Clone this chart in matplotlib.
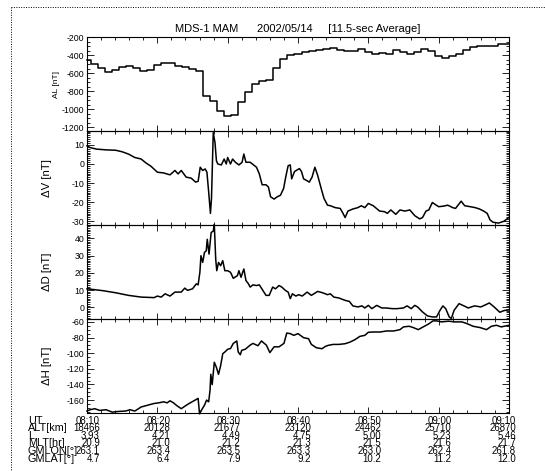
import matplotlib
matplotlib.use("Agg")
import matplotlib.pyplot as plt
import matplotlib.ticker as mticker
from matplotlib.lines import Line2D

plt.rcParams['font.family'] = ['Liberation Sans', 'DejaVu Sans']
plt.rcParams['axes.unicode_minus'] = False

# ---- data (minutes after 08:10 UT) ----
al_t = list(range(61))
al = [-446, -500, -543, -579, -561, -525, -514, -543, -571, -561,
      -507, -489, -489, -518, -525, -550, -571, -846, -907, -1018,
      -1068, -1062, -918, -804, -721, -686, -668, -536, -436, -400,
      -382, -364, -346, -336, -329, -321, -336, -350, -354, -332,
      -364, -382, -375, -389, -339, -364, -389, -357, -332, -354,
      -407, -425, -411, -382, -339, -311, -293, -300, -295, -275, -275]

dv_t = [0, 0.45, 1.36, 2.73, 4.09, 5.0, 5.9, 6.8, 7.7, 8.4, 9.1, 10, 10.9, 11.8,
        12.5, 12.95, 13.4, 14.1, 14.8, 15.45, 15.8, 16.1, 16.45, 16.8, 17.05,
        17.3, 17.55, 17.7, 17.95, 18.2, 18.4, 18.6, 19.1, 19.5, 19.8, 20, 20.4,
        20.7, 21.1, 21.6, 22.05, 22.3, 22.6, 23.2, 24.1, 24.5, 24.9, 25.45,
        25.8, 26.1, 26.6, 27.05, 27.5, 27.95, 28.3, 28.6, 28.9, 29.1, 29.5,
        30.2, 30.5, 30.8, 31.2, 31.6, 32.0, 32.4, 32.8, 33.3, 33.7, 34.2, 34.6,
        35.3, 36.0, 36.4, 36.7, 37.1, 37.8, 38.5, 39.0, 39.5, 40.0, 40.7, 41.6,
        42.3, 42.7, 43.2, 43.9, 44.5, 45.2, 45.9, 46.6, 47.3, 47.7, 48.2, 48.6,
        49.1, 49.5, 50.0, 50.7, 51.3, 52.0, 52.4, 53.2, 53.7, 54.5, 55.2, 55.8,
        56.4, 56.9, 57.3, 57.7, 58.5, 59.3, 60]
dv = [9.5, 8.6, 7.8, 7.4, 7.2, 6.4, 5.2, 3.4, 2.6, 0.5, -1.2, -4.3, -4.7, -5.7,
      -3.4, -5.2, -3.4, -6.9, -7.4, -9.5, -9.1, -1.7, -3.4, -2.6, -4.3,
      -14.7, -25.9, -18.1, 16.4, 11.2, 1.7, 0, -0.5, 2.6, 0, 3.4, 0,
      2.6, 0.9, -0.5, 0.9, 5.2, 0.9, 0.9, -1.7, -5.2, -10.9, -10.9,
      -12.1, -17.2, -18.4, -17.2, -16.4, -12.9, -6.0, -0.9, -0.5, -7.8, -4.0,
      -2.4, -4.0, -7.8, -8.6, -9.5, -6.9, -1.7, -6.0, -12.9, -18.1, -21.6, -21.9,
      -22.9, -23.3, -25.9, -28.1, -24.7, -23.6, -22.9, -21.9, -22.9, -20.7, -21.9, -24.7,
      -25.0, -25.9, -24.1, -26.4, -24.1, -24.7, -24.1, -27.1, -28.8, -28.1, -24.7, -24.1,
      -20.2, -21.2, -22.4, -22.1, -21.6, -22.9, -23.3, -19.5, -21.9, -22.4, -22.9, -23.6,
      -24.7, -25.9, -29.3, -30.5, -31.0, -30.0, -28.0]

dd_t = [0, 0.9, 2.3, 4.1, 5.9, 7.7, 9.55, 10, 10.55, 11.1, 11.8, 12.5, 13.4, 13.9,
        14.3, 15, 15.55, 15.8, 16.05, 16.2, 16.45, 16.7, 16.95, 17.1, 17.35,
        17.65, 17.95, 18.1, 18.3, 18.45, 18.7, 19, 19.3, 19.6, 20, 20.4, 20.8,
        21.4, 21.6, 21.9, 22.3, 22.6, 22.95, 23.2, 23.6, 24.1, 24.5, 25, 25.45,
        25.9, 26.4, 26.8, 27.3, 27.7, 28.2, 28.6, 28.9, 29.2, 29.7, 30.1, 30.6,
        31.3, 31.9, 32.8, 33.5, 34.2, 34.6, 35.1, 35.8, 36.7, 37.3, 37.8, 38.5,
        39.1, 39.5, 40, 40.5, 41.2, 41.9, 42.5, 43.4, 44.1, 45.0, 45.5, 46.1,
        46.6, 47.0, 47.7, 48.4, 49.1, 49.7, 50.2, 50.6, 51.0, 51.5, 51.8, 52.2,
        52.9, 53.6, 54.2, 55.1, 56.0, 56.7, 57.2, 57.8, 58.7, 59.3, 60]
dd = [10.7, 10.3, 9.6, 8.4, 6.9, 5.9, 5.6, 6.5, 5.9, 7.8, 6.5, 8.8, 8.8, 11.1,
      9.8, 10.7, 13.6, 13.0, 20.3, 29.9, 26.0, 31.8, 32.7, 39.4, 30.8,
      43.3, 44.2, 48.0, 27.9, 21.2, 26.0, 24.1, 27.0, 21.2, 21.2, 20.3, 16.8,
      18.4, 21.2, 17.4, 22.2, 15.5, 13.6, 11.7, 13.0, 12.6, 13.0, 9.8, 6.9,
      6.9, 11.7, 10.7, 12.6, 11.7, 9.8, 8.8, 5.0, 7.8, 6.5, 7.3, 6.5,
      8.8, 6.9, 9.2, 8.4, 7.3, 7.8, 5.9, 5.4, 4.0, 3.4, 0.8, 0.2,
      0.8, -0.4, 1.1, -0.8, 1.1, -0.4, -0.4, -0.8, -0.8, -0.4, 0.8, -0.8,
      1.1, 0.2, -2.7, -5.0, -5.6, -5.6, -1.7, 0.8, -0.8, -5.6, -6.5, -1.7,
      2.1, 0.8, -0.4, 0.8, 0.2, 1.5, 2.5, 0.5, -2.9, -1.9, -1.5]

dh_t = [0, 0.45, 1.1, 1.8, 2.7, 3.6, 4.5, 5.5, 6.1, 6.8, 7.7, 8.6, 9.5, 10.2, 10.9,
        11.4, 11.8, 12.3, 12.7, 13.4, 13.9, 14.5, 15.2, 15.8, 16.0, 16.4, 16.7,
        17.0, 17.3, 17.5, 17.6, 17.8, 18.1, 18.4, 18.7, 19.0, 19.3, 19.6, 20.0,
        20.4, 20.8, 21.3, 21.5, 21.8, 22.0, 22.5, 23.2, 23.6, 24.3, 24.8, 25.5,
        26.0, 26.6, 27.3, 28.0, 28.4, 28.9, 29.4, 30.0, 30.8, 31.5, 31.9, 32.6,
        33.4, 33.9, 34.3, 35.0, 35.8, 36.7, 37.4, 38.1, 38.8, 39.5, 40.0, 40.7,
        41.7, 42.6, 43.6, 44.5, 45.0, 45.8, 46.4, 47.1, 47.8, 48.5, 49.2, 49.7,
        50.4, 51.4, 52.3, 53.3, 54.0, 54.9, 55.9, 56.8, 57.5, 58.2, 58.9, 60]
dh = [-174, -172.3, -171, -173.2, -172.3, -175.4, -174.5, -174, -172.3, -174,
      -168.8, -166.6, -164.4, -163.5, -162.2, -163.5, -160.9, -163.5, -166.6,
      -171, -167.9, -164.4, -160.9, -157.8, -177.6, -171, -166.6, -160, -162.2,
      -146.8, -127, -140.2, -111.6, -118.2, -127, -116, -100.7, -98.5, -95,
      -94.1, -87.5, -84.4, -98.5, -102, -96.3, -95, -89.7, -87.5, -90.5, -84.4,
      -89.7, -99.3, -91.9, -91.9, -87.5, -74.3, -75, -77.2, -75, -80.2, -81.5,
      -88.8, -93, -94.3, -91.3, -90, -88.8, -88.8, -87.9, -85.8, -82.7, -78.5,
      -77.2, -73.3, -72.9, -72.9, -71.6, -71.6, -69.9, -66.4, -65.6, -67.3,
      -69.9, -66.4, -63, -58.7, -58.7, -60, -59.1, -60, -60, -62.1, -65.6,
      -67.3, -69.9, -65.6, -64.3, -66.4, -64.3]

row_labels = ['UT', 'ALT[km]', 'L', 'MLT[hr]', 'GMLON[°]', 'GMLAT[°]']
ut = ['08:10', '08:20', '08:30', '08:40', '08:50', '09:00', '09:10']
alt = ['18466', '20128', '21677', '23120', '24462', '25710', '26870']
lval = ['3.93', '4.21', '4.49', '4.75', '5.00', '5.23', '5.46']
mlt = ['20.9', '21.0', '21.2', '21.3', '21.5', '21.6', '21.7']
gmlon = ['263.1', '263.4', '263.5', '263.3', '263.0', '262.4', '261.8']
gmlat = ['4.7', '6.4', '7.9', '9.2', '10.2', '11.2', '12.0']
rows = [ut, alt, lval, mlt, gmlon, gmlat]

W, H = 545, 471
fig = plt.figure(figsize=(W / 100, H / 100), dpi=100)


def fx(px):
    return px / W


def fy(py):
    return 1 - py / H


left, right = 87, 509
ph = 94
tops = [37, 131, 225, 319]

panels = [
    (al_t, al, 'AL [nT]', (-1240, -195), 200, 50, 6.0, 60),
    (dv_t, dv, '\u0394V [nT]', (-32.0, 17.3), 10, 1, 8.2, 52),
    (dd_t, dd, '\u0394D [nT]', (-6.8, 47.7), 10, 1, 8.2, 52),
    (dh_t, dh, '\u0394H [nT]', (-176.5, -56.3), 20, 5, 8.2, 52),
]

for i, (t, v, lab, ylim, maj, mnr, lsz, lx) in enumerate(panels):
    ax = fig.add_axes([fx(left), fy(tops[i] + ph), fx(right) - fx(left), ph / H])
    ax.set_facecolor('none')
    ax.set_zorder(10 - i)
    if i == 0:
        ax.plot(t, v, color='k', lw=1.1, drawstyle='steps-mid', clip_on=False)
    else:
        ax.plot(t, v, color='k', lw=1.1, clip_on=False)
    ax.set_xlim(0, 60)
    ax.set_ylim(*ylim)
    ax.xaxis.set_major_locator(mticker.MultipleLocator(10))
    ax.xaxis.set_minor_locator(mticker.MultipleLocator(2))
    ax.yaxis.set_major_locator(mticker.MultipleLocator(maj))
    ax.yaxis.set_minor_locator(mticker.MultipleLocator(mnr))
    ax.tick_params(which='both', direction='in', top=True, right=True,
                   labelbottom=False, labelsize=6.3, pad=2, width=0.6)
    ax.tick_params(axis='x', which='major', length=4.5)
    ax.tick_params(axis='x', which='minor', length=2.2)
    ax.tick_params(axis='y', which='major', length=5)
    ax.tick_params(axis='y', which='minor', length=2.2)
    for s in ax.spines.values():
        s.set_linewidth(0.8)
    ax.set_ylabel(lab, fontsize=lsz)
    ax.yaxis.set_label_coords((lx - left) / (right - left), 0.5)

fig.text(fx(298), fy(29), 'MDS-1 MAM      2002/05/14     [11.5-sec Average]',
         ha='center', va='center', fontsize=8)

# info table under the time axis (rows packed tightly, as in the original)
for i, (lab, vals) in enumerate(zip(row_labels, rows)):
    y = 420.5 + 7.6 * i
    fig.text(fx(28), fy(y), lab, fontsize=7.8, ha='left', va='center')
    for j, s in enumerate(vals):
        xr = left + j * (right - left) / 6 + 13 if j < 6 else 516
        fig.text(fx(xr), fy(y), s, fontsize=6.9, ha='right', va='center')

# dotted frame (left and top edges)
dot = dict(color='k', lw=0.7, linestyle=(0, (1, 1.5)))
fig.add_artist(Line2D([fx(11), fx(11)], [fy(7), 0], **dot))
fig.add_artist(Line2D([fx(11), 1], [fy(7), fy(7)], **dot))

fig.savefig('out.png', dpi=100)
